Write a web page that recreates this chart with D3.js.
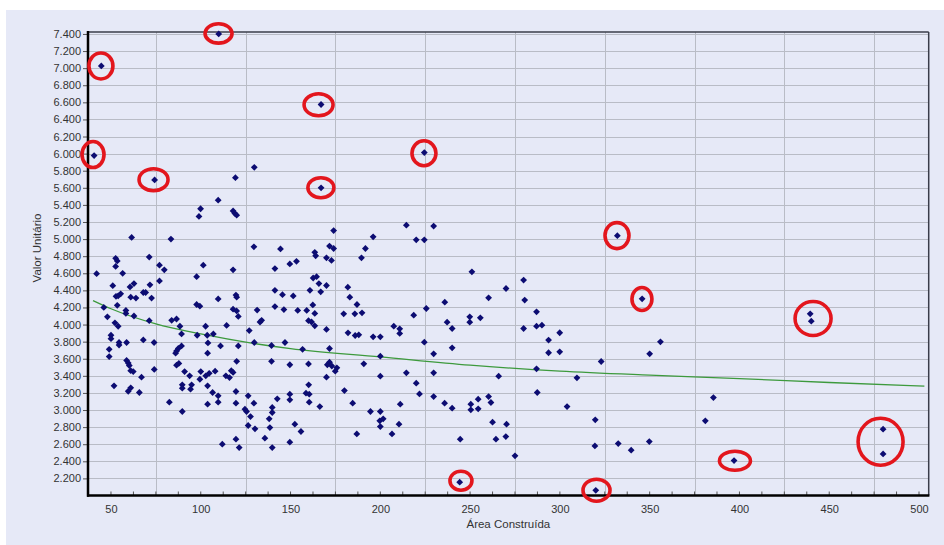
<!DOCTYPE html>
<html>
<head>
<meta charset="utf-8">
<script src="https://cdn.jsdelivr.net/npm/d3@7"></script>
<style>
  html, body { margin: 0; padding: 0; background: #ffffff; }
  svg { display: block; }
  text { font-family: "Liberation Sans", Arial, sans-serif; }
</style>
</head>
<body>
<svg id="chart" width="944" height="545"></svg>
<script>
// ---------------- DATA ----------------
const areaConstruida = [
  110, 44.6, 40.6, 74.3, 119.3, 129.8,
  167, 224.5, 167,
  332, 345.8, 356, 350, 439.4, 440,
  319.5, 332.5, 339.7, 349.8, 381, 385.5, 397, 480, 480, 320, 319.7,
  174, 171.7, 174, 170, 172.8, 196, 191.7, 189.5, 214.5, 220, 224.5, 229.7,
  166.8, 170, 181.9, 183, 187, 170, 179.6, 185.8, 189.8, 218.6, 225.6, 235.9,
  237.2, 240, 182, 186, 188, 196, 200, 207.5, 210.8, 210.8, 224.5, 229.7, 240,
  251, 260.3, 270, 279.8, 280.4, 249.8, 249.8, 255.7, 279.8, 287, 287, 290,
  293.7, 293.7, 299.9, 299.9, 323, 171.7, 200, 171.7, 173, 175.8, 174.9, 170.5,
  190.8, 200, 214.5, 229.7, 265.9, 287, 309.5, 170,
  180, 184.6, 194.5, 200, 199.7, 201.6, 200, 186.9, 206.5, 210.4, 211.1, 220,
  221.8, 229.7, 235.8, 240, 244.5, 244.2, 250.4, 250.4, 254.5, 254.5, 260.3,
  261.6, 262.5, 264.4, 270.3, 269.9, 275, 287.4, 304,
  42, 46, 48, 52.6, 53.5, 52.6, 51, 56.5, 52.8, 54, 55.4, 53.5, 58.3, 58.3,
  62.8, 52.2, 54, 61.5, 62.8, 60.6, 61, 63.9, 68, 69.3, 71.7, 72.6, 71.3, 50,
  50, 49, 49, 54.5, 54.5, 58.7, 58.7, 59.6, 60.2, 61, 62.4, 67, 68, 74, 74.1,
  71.3, 77, 79.7, 77, 83.4, 83.8, 86.5, 88.4, 89.3, 86.5, 87.5, 89.3, 86, 87.8,
  86.5, 91, 93.8, 97.7, 97.7, 99.5, 99, 99.9, 101.4, 98, 102.7, 103.6, 104,
  103.8, 100, 99.5, 102.8, 104.7, 107, 109.7, 109.7, 111, 108, 114.4, 114, 116,
  118, 119, 120, 118, 119.6, 120, 118, 120, 120.9, 118, 117, 120, 120.9, 127,
  129.6, 129.8, 131.4, 133.9, 133, 139.4, 139.4, 141.3, 141.3, 145.5, 141.3,
  144.4, 146.3, 146.9, 149.6, 153.3, 151.5, 149.6, 154, 156.7, 159, 160, 161.7,
  163.5, 160.8, 162.6, 164.5, 163.5, 164, 162.4, 163.5, 165.8, 160,
  51.7, 59.6, 61, 65.8, 82.5, 89.7, 89.7, 94.9, 94.3, 89.7, 103.8, 103.8, 106.6,
  109.7, 109.7, 119.6, 119.6, 112, 119.6, 121.4, 124.6, 125.5, 126.4, 127.7,
  126.4, 129.6, 130.2, 135.7, 138.1, 138.5, 139.8, 139.8, 139.8, 142.6, 149.6,
  149.6, 149.6, 152.4, 155.8, 160.1, 158.6, 160.4, 160.4, 166.3
];
const valorUnitario = [
  7400, 7026, 5977, 5692, 5719, 5840,
  6575, 6012, 5600,
  5040, 4301, 3798, 3658, 4126, 4040,
  2580, 2608, 2530, 2631, 2874, 3146, 2409, 2776, 2487, 2060, 2885,
  5100, 4918, 4890, 4781, 4750, 5027, 4890, 4781, 5163, 4992, 4992, 5152,
  4383, 4457, 4438, 4321, 4235, 3943, 4126, 4126, 4137, 4110, 4188, 4262,
  4028, 3954, 3903, 3872, 3880, 3857, 3857, 3981, 3950, 3896, 3794, 3658, 3728,
  4617, 4313, 4422, 4520, 4286, 4091, 4028, 4079, 3954, 4149, 3981, 3993,
  3818, 3670, 3681, 3904, 3568, 3720, 3630, 3560, 3515, 3494, 3455, 3530,
  3541, 3396, 3435, 3435, 3396, 3482, 3377, 3385,
  3228, 3080, 2983, 2983, 2874, 2897, 2807, 2721, 2721, 2835, 3068, 3314,
  3189, 3158, 3080, 3022, 2659, 2156, 3068, 3002, 3127, 3014, 3158,
  3088, 2858, 2659, 2835, 2690, 2464, 3205, 3041,
  4595, 4200, 4090, 4775, 4745, 4680, 4455, 4600, 4330, 4335, 4360, 4225, 4165, 4130,
  4100, 4020, 3980, 5020, 4480, 4440, 4320, 4310, 4375, 4375, 4465, 4310, 4790, 3875,
  3835, 3710, 3625, 3790, 3760, 3790, 3580, 3550, 3520, 3460, 3450, 3385, 3820, 3790, 3475,
  4045, 4695, 4640, 4510, 5000, 4050, 4065, 3980, 3890, 3690, 3720, 3750, 3665, 3545,
  3525, 3450, 3400, 4560, 4235, 4215, 5265, 5355, 4695, 3875, 3980, 3875, 3785,
  3665, 3450, 3360, 3400, 3430, 3890, 5455, 4300, 3750, 3455, 3990, 3400, 3380,
  5330, 5300, 5280, 4640, 4345, 4320, 4180, 4160, 4095, 3440, 3460, 3570, 3750, 3930,
  4910, 3790, 4170, 4050, 4030, 3755, 3570, 4655, 4400, 4350, 4210,
  4885, 4175, 3790, 4710, 4740, 4335, 3530, 4165, 3710, 4165, 4045, 4030,
  3985, 4400, 4545, 4560, 4845, 4805, 4230, 4130, 4480, 3540,
  3283, 3220, 3260, 3205, 3092, 3295, 3256, 3295, 3244, 2983, 3283, 3068, 3205,
  3166, 3092, 3217, 3080, 2600, 2659, 2561, 3010, 2983, 3166, 2924,
  2819, 3080, 2780, 2671, 2897, 2795, 3030, 2971, 2561, 3131, 3185,
  3119, 2624, 2834, 2749, 3295, 3197, 3185, 3092, 3041
];
// fitted trend curve
const trendArea  = [40, 50, 75, 100, 150, 200, 250, 300, 350, 400, 450, 503];
const trendValor = [4280, 4185, 4008, 3890, 3718, 3622, 3525, 3455, 3408, 3368, 3322, 3280];
// circled outliers (data centre, radius in px)
const circledArea  = [109.9, 44.4, 40, 73.7, 165.6, 224.3, 166.9, 331.8, 345.7, 441, 244.9, 320.4, 397.5, 478.6];
const circledValor = [7406, 7026, 5989, 5695, 6571, 6004, 5601, 5041, 4299, 4071, 2173, 2062, 2407, 2629];
const circledRx = [13.5, 12, 11, 14.5, 14.5, 12, 13, 12, 10, 18, 11, 13.5, 15.5, 22.5];
const circledRy = [9.7, 13, 13, 11, 11, 12.5, 10, 13, 11.5, 17, 9.5, 11, 9.5, 23.5];

const xTickLabels = [50, 100, 150, 200, 250, 300, 350, 400, 450, 500];
const yTickLabels = [2200, 2400, 2600, 2800, 3000, 3200, 3400, 3600, 3800, 4000, 4200, 4400,
  4600, 4800, 5000, 5200, 5400, 5600, 5800, 6000, 6200, 6400, 6600, 6800, 7000, 7200, 7400];
const xGridValues = [75, 125, 175, 225, 275, 325, 375, 425, 475];
const xMinorTicks = d3.range(37.5, 505, 12.5);
const xTitle = "Área Construída";
const yTitle = "Valor Unitário";

// ---------------- CHART ----------------
const svg = d3.select("#chart");
const L = 88, R = 928.7, T = 32, B = 495.5;
const bg = "#e6e9f7";

svg.append("rect").attr("x", 6).attr("y", 10).attr("width", 944 - 6).attr("height", 545 - 10).attr("fill", bg);

const x = d3.scaleLinear().domain([37.2, 505.4]).range([L, R]);
const y = d3.scaleLinear().domain([2000, 7423]).range([B, T]);

const br = d3.formatLocale({decimal: ",", thousands: ".", grouping: [3], currency: ["R$", ""]});
const fmt = br.format(",.0f");

// grid
const grid = svg.append("g");
grid.selectAll("line.h").data(yTickLabels).join("line")
  .attr("x1", L).attr("x2", R)
  .attr("y1", d => Math.round(y(d)) + 0.5).attr("y2", d => Math.round(y(d)) + 0.5)
  .attr("stroke", "#b9bcc6").attr("stroke-width", 1);
grid.selectAll("line.v").data(xGridValues).join("line")
  .attr("y1", T).attr("y2", B)
  .attr("x1", d => Math.round(x(d)) + 0.5).attr("x2", d => Math.round(x(d)) + 0.5)
  .attr("stroke", "#b9bcc6").attr("stroke-width", 1);

// frame top/right
svg.append("line").attr("x1", L).attr("x2", R).attr("y1", T).attr("y2", T).attr("stroke", "#3a3d4a").attr("stroke-width", 1.3);
svg.append("line").attr("x1", R).attr("x2", R).attr("y1", T).attr("y2", B).attr("stroke", "#3a3d4a").attr("stroke-width", 1.5);

// y axis
const yAxis = d3.axisLeft(y).tickValues(yTickLabels).tickFormat(fmt).tickSize(4).tickPadding(2);
const gy = svg.append("g").attr("transform", `translate(${L - 1},0)`).call(yAxis);
gy.select(".domain").remove();
gy.selectAll(".tick line").attr("stroke", "#555");
gy.selectAll(".tick text").attr("font-size", 11).attr("fill", "#333")
  .attr("font-family", "'Liberation Sans', Arial, sans-serif");

// x axis (labels)
const xAxis = d3.axisBottom(x).tickValues(xTickLabels).tickFormat(d3.format("d")).tickSize(0).tickPadding(10);
const gx = svg.append("g").attr("transform", `translate(0,${B})`).call(xAxis);
gx.select(".domain").remove();
gx.selectAll(".tick text").attr("font-size", 11).attr("fill", "#333")
  .attr("font-family", "'Liberation Sans', Arial, sans-serif");
// x minor ticks
svg.append("g").selectAll("line").data(xMinorTicks).join("line")
  .attr("x1", d => x(d)).attr("x2", d => x(d)).attr("y1", B - 4).attr("y2", B)
  .attr("stroke", "#555").attr("stroke-width", 1);

// axis lines
svg.append("line").attr("x1", L).attr("x2", L).attr("y1", T - 1).attr("y2", B + 1.2).attr("stroke", "#000").attr("stroke-width", 2.5);
svg.append("line").attr("x1", L - 1).attr("x2", R + 0.7).attr("y1", B).attr("y2", B).attr("stroke", "#000").attr("stroke-width", 2.5);

// titles
svg.append("text").attr("x", (L + R) / 2).attr("y", 528).attr("text-anchor", "middle")
  .attr("font-size", 11.5).attr("fill", "#333").text(xTitle);
svg.append("text").attr("transform", "translate(40.5,248) rotate(-90)").attr("text-anchor", "middle")
  .attr("font-size", 11.5).attr("fill", "#333").text(yTitle);

// trend line
const trend = trendArea.map((a, i) => [a, trendValor[i]]);
svg.append("path").datum(trend)
  .attr("d", d3.line().x(d => x(d[0])).y(d => y(d[1])).curve(d3.curveMonotoneX))
  .attr("fill", "none").attr("stroke", "#3d9a3d").attr("stroke-width", 1.3);

// points
const pts = areaConstruida.map((a, i) => [a, valorUnitario[i]]);
const diamond = "M0,-3.4L3.4,0L0,3.4L-3.4,0Z";
svg.append("g").selectAll("path").data(pts).join("path")
  .attr("transform", d => `translate(${x(d[0])},${y(d[1])})`)
  .attr("d", diamond).attr("fill", "#0c0c72");

// circled outliers
const circ = circledArea.map((a, i) => ({a, v: circledValor[i], rx: circledRx[i], ry: circledRy[i]}));
svg.append("g").selectAll("ellipse").data(circ).join("ellipse")
  .attr("cx", d => x(d.a)).attr("cy", d => y(d.v))
  .attr("rx", d => d.rx).attr("ry", d => d.ry)
  .attr("fill", "none").attr("stroke", "#e3161d").attr("stroke-width", 3.6);
</script>
</body>
</html>
